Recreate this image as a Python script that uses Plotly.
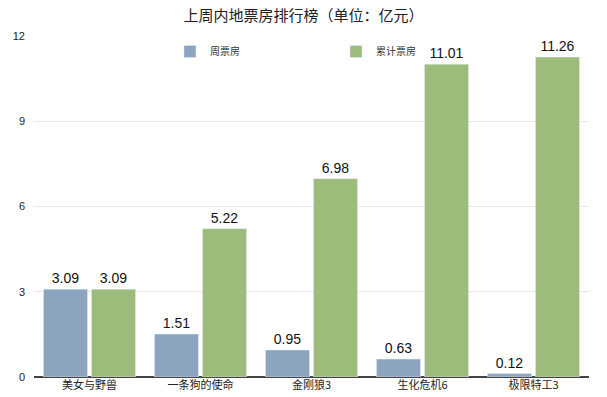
import plotly.graph_objects as go

categories = ["美女与野兽", "一条狗的使命", "金刚狼3", "生化危机6", "极限特工3"]
weekly = [3.09, 1.51, 0.95, 0.63, 0.12]
total = [3.09, 5.22, 6.98, 11.01, 11.26]
series_names = ["周票房", "累计票房"]
y_ticks = [0, 3, 6, 9, 12]

cjk_font = "Noto Sans CJK SC, sans-serif"
num_font = "Liberation Sans, Arial, sans-serif"

fig = go.Figure()
fig.add_bar(x=categories, y=weekly, name=series_names[0], marker_color="#8da4c0",
            text=[f"{v:.2f}" for v in weekly], textposition="outside",
            textfont=dict(size=14, color="#111", family=num_font), cliponaxis=False)
fig.add_bar(x=categories, y=total, name=series_names[1], marker_color="#9dbb7a",
            text=[f"{v:.2f}" for v in total], textposition="outside",
            textfont=dict(size=14, color="#111", family=num_font), cliponaxis=False)

fig.update_layout(
    width=607, height=397,
    margin=dict(l=34, r=18, t=36, b=20, autoexpand=False),
    paper_bgcolor="white", plot_bgcolor="white",
    font=dict(family=cjk_font, size=11, color="#222"),
    title=dict(text="上周内地票房排行榜（单位：亿元）", x=0.5, xanchor="center",
               y=0.96, yanchor="middle", font=dict(size=15, color="#222")),
    barmode="group", bargap=0.135, bargroupgap=0.083,
    showlegend=True,
    legend=dict(orientation="h", x=0.245, xanchor="left", y=0.997, yanchor="top",
                entrywidth=121, entrywidthmode="pixels",
                font=dict(size=10, color="#333"), bgcolor="rgba(0,0,0,0)",
                itemwidth=30),
    xaxis=dict(showgrid=False, showline=False, ticks="", tickfont=dict(size=11),
               automargin=False),
    yaxis=dict(range=[0, 12], tickvals=y_ticks, showgrid=True, gridcolor="#e6e6e6",
               zeroline=True, zerolinecolor="#444", zerolinewidth=1.5,
               ticks="", tickfont=dict(size=11, family=num_font), ticklabelstandoff=8,
               automargin=False),
)
fig.write_html("out.html", config={"displayModeBar": False},
               post_script="document.body.style.margin='0';")
